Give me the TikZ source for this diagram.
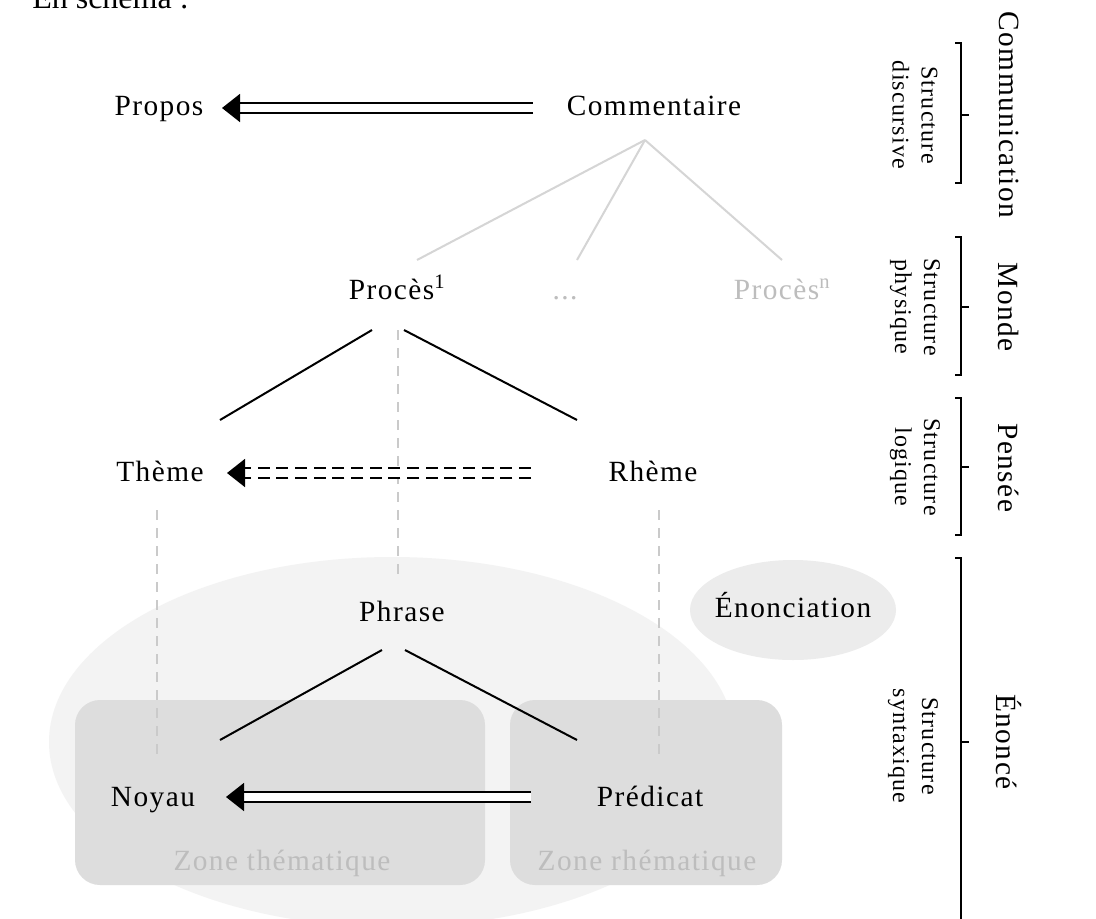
\documentclass[tikz,border=0pt]{standalone}
\usepackage{fontspec}
\setmainfont{Liberation Serif}
\newfontfamily\trackfont[LetterSpace=5]{Liberation Serif}
\usetikzlibrary{arrows.meta,calc}

\definecolor{treegray}{HTML}{D5D5D5}
\definecolor{guidegray}{HTML}{CACACA}
\definecolor{faint}{HTML}{BDBDBD}
\definecolor{bigzone}{HTML}{F3F3F3}
\definecolor{zonefill}{HTML}{DDDDDD}
\definecolor{enfill}{HTML}{ECECEC}

\begin{document}
\begin{tikzpicture}[x=0.75pt,y=-0.75pt,
  lbl/.style={font=\trackfont\fontsize{22}{26}\selectfont, inner sep=0pt, anchor=base},
  side/.style={font=\trackfont\fontsize{22}{26}\selectfont, rotate=-90, inner sep=0pt},
  sub/.style={font=\trackfont\fontsize{18}{21.75}\selectfont, rotate=-90, inner sep=0pt, align=center},
  treeline/.style={line width=1.5pt, black},
  commline/.style={line width=1.5pt, treegray},
  guide/.style={line width=1.5pt, guidegray, dash pattern=on 7.5pt off 6pt},
  dblarrow/.style={draw=black, line width=1.3pt, double=white, double distance=6pt,
                   -{Triangle[length=13.5pt,width=21pt]}},
  dashdbl/.style={dblarrow, dash pattern=on 9pt off 5pt},
  bracket/.style={line width=1.5pt, black}
]
\useasboundingbox (0,0) rectangle (1096,918);
\fill[white] (0,0) rectangle (1096,918);

% backgrounds: sentence area, the two zones and the enunciation bubble
\fill[bigzone] (392,742) ellipse [x radius=257.25pt, y radius=138.75pt];
\fill[zonefill, rounded corners=18.75pt] (75,700) rectangle (485,885);
\fill[zonefill, rounded corners=18.75pt] (510,700) rectangle (782,885);
\fill[enfill] (793,610) ellipse [x radius=77.25pt, y radius=37.5pt];

% heading
\node[anchor=base west, font=\fontsize{24}{28}\selectfont, inner sep=0pt] (title) at (32,8) {En schéma :};

% labels
\node[lbl] (propos) at (159,115) {Propos};
\node[lbl] (comm) at (654,115) {Commentaire};
\node[lbl] (proc1) at (397,299) {Procès\textsuperscript{1}};
\node[lbl, text=faint] (dots) at (565,299) {...};
\node[lbl, text=faint] (procn) at (782,299) {Procès\textsuperscript{n}};
\node[lbl] (theme) at (160,481) {Thème};
\node[lbl] (rheme) at (653,481) {Rhème};
\node[lbl] (phrase) at (402,621) {Phrase};
\node[lbl] (enonc) at (793,617) {Énonciation};
\node[lbl] (noyau) at (153,806) {Noyau};
\node[lbl] (predicat) at (650,806) {Prédicat};
\node[lbl, text=faint] (zth) at (282,870) {Zone thématique};
\node[lbl, text=faint] (zrh) at (647,870) {Zone rhématique};

% commentary splits into processes
\draw[commline] ($(comm.base)+(-9,25)$) -- ($(proc1.base)+(20,-39)$);
\draw[commline] ($(comm.base)+(-9,25)$) -- ($(dots.base)+(12,-39)$);
\draw[commline] ($(comm.base)+(-9,25)$) -- ($(procn.base)+(0,-39)$);

% process tree
\draw[treeline] ($(proc1.base)+(-25,31)$) -- ($(theme.base)+(60,-61)$);
\draw[treeline] ($(proc1.base)+(7,31)$) -- ($(rheme.base)+(-76,-61)$);
\draw[guide] ($(proc1.base)+(1,31)$) -- ($(phrase.base)+(-4,-41)$);

% sentence tree
\draw[treeline] ($(phrase.base)+(-20,29)$) -- ($(noyau.base)+(67,-66)$);
\draw[treeline] ($(phrase.base)+(3,29)$) -- ($(predicat.base)+(-73,-66)$);
\draw[guide] ($(theme.base)+(-3,29)$) -- ($(noyau.base)+(4,-51)$);
\draw[guide] ($(rheme.base)+(6,29)$) -- ($(predicat.base)+(9,-51)$);

% double arrows
\draw[dblarrow] ($(comm.base)+(-121,-7)$) -- ($(propos.base)+(63,-7)$);
\draw[dashdbl] ($(rheme.base)+(-122,-8)$) -- ($(theme.base)+(67,-8)$);
\draw[dblarrow] ($(predicat.base)+(-119,-9)$) -- ($(noyau.base)+(73,-9)$);

% level brackets
\foreach \ta/\mi/\bo in {43/115/183, 237/307/375, 398/467/535, 558/742/926} {
  \draw[bracket] (955,\ta) -- (961,\ta) -- (961,\bo) -- (955,\bo);
  \draw[bracket] (961,\mi) -- (969,\mi);
}

% level names
\node[side] (communication) at (1009,115) {Communication};
\node[side] (monde) at (1009,307) {Monde};
\node[side] (pensee) at (1009,468) {Pensée};
\node[side] (enonce) at (1009,742) {Énoncé};
\node[sub] (sdisc) at (915,115) {Structure\\discursive};
\node[sub] (sphys) at (915,307) {Structure\\physique};
\node[sub] (slog) at (915,467) {Structure\\logique};
\node[sub] (ssyn) at (913,746) {Structure\\syntaxique};
\end{tikzpicture}
\end{document}
